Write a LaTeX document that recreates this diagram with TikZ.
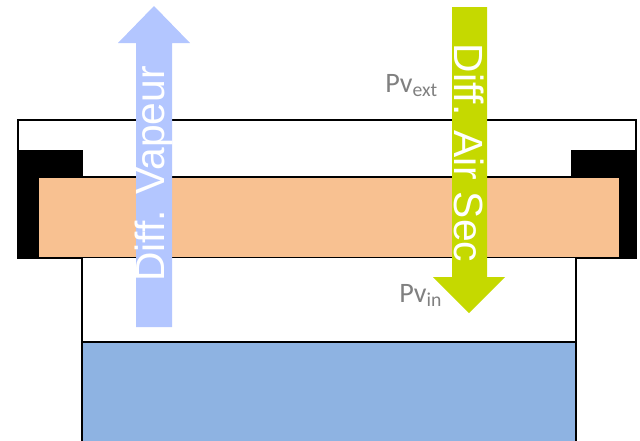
\documentclass[tikz,border=0pt]{standalone}
\usepackage{fontspec}
\setmainfont{Liberation Sans}
\newfontfamily\labelfont{Carlito}
\usepackage{xcolor}
\usetikzlibrary{positioning}

\definecolor{vapeur}{RGB}{179,198,255}
\definecolor{airsec}{RGB}{197,217,0}
\definecolor{joint}{RGB}{248,193,145}
\definecolor{eau}{RGB}{142,179,226}
\definecolor{pvgray}{RGB}{128,128,128}

\begin{document}
\begin{tikzpicture}[
    x=0.025cm, y=-0.025cm,
    wall/.style={draw=black, line width=1.2pt},
    flux/.style={font=\fontsize{29}{29}\selectfont, text=white, inner sep=0pt},
    press/.style={font=\labelfont\fontsize{20}{20}\selectfont, text=pvgray, inner sep=0pt}
]
    \useasboundingbox (0,0) rectangle (640,441);

    % couvercle
    \draw [wall, fill=white] (18,120) rectangle (636,258);
    \fill [black] (18,150) rectangle (83,258);
    \fill [black] (571,150) rectangle (636,258);
    \draw [wall, fill=joint] (38,177) rectangle (620,258);

    % pot et eau
    \fill [white] (82,258) rectangle (576,342);
    \draw [wall, fill=eau] (82,342) rectangle (576,450);
    \draw [wall] (82,258) -- (82,450);
    \draw [wall] (576,258) -- (576,450);

    % flux
    \fill [vapeur] (136,327) -- (136,43) -- (118,43) -- (154,6) -- (190,43) -- (172,43) -- (172,327) -- cycle;
    \node [flux, rotate=90] (vap) at (154,174) {Diff. Vapeur};
    \fill [airsec] (452,7) -- (487,7) -- (487,277) -- (505,277) -- (469,313) -- (433,277) -- (452,277) -- cycle;
    \node [flux, rotate=-90] (air) at (469,153) {Diff. Air Sec};

    % pressions
    \node [press, anchor=base west] (pvext) at (385,92) {Pv\textsubscript{ext}};
    \node [press, anchor=base west] (pvin) at (399,302) {Pv\textsubscript{in}};

\end{tikzpicture}
\end{document}
